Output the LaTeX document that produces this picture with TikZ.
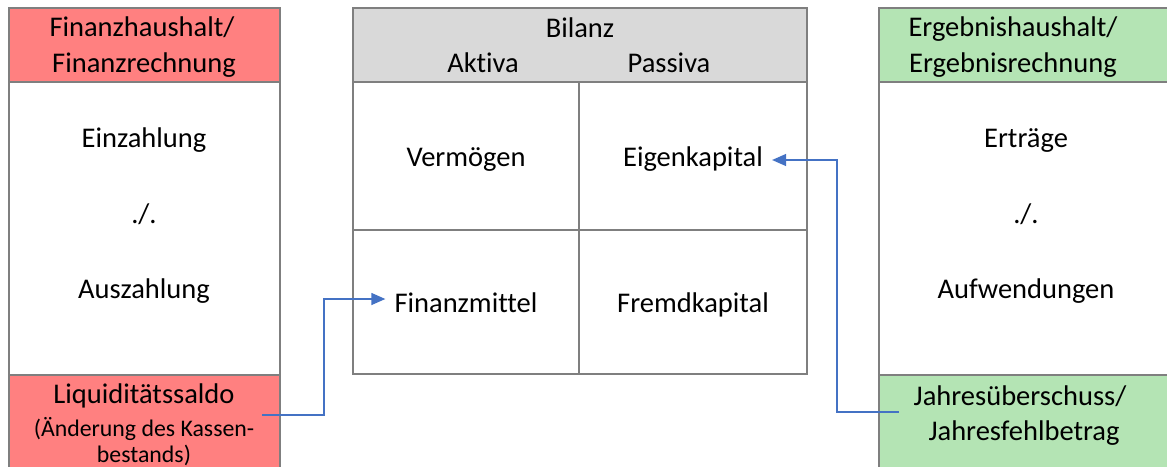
\documentclass[tikz,border=0pt]{standalone}
\usepackage{fontspec}
\setmainfont{Carlito}[Ligatures=NoCommon]
\usetikzlibrary{arrows.meta}
\definecolor{fhred}{RGB}{255,128,128}
\definecolor{ehgreen}{RGB}{180,228,180}
\definecolor{hgray}{RGB}{217,217,217}
\definecolor{bgray}{RGB}{127,127,127}
\definecolor{arrblue}{RGB}{68,114,196}
\begin{document}
\begin{tikzpicture}[x=1pt,y=-1pt,
  frame/.style={draw=bgray, line width=2pt},
  txt/.style={font=\fontsize{28.5}{36}\selectfont, anchor=base, inner sep=0pt, align=center},
  smalltxt/.style={font=\fontsize{23.8}{27}\selectfont, anchor=base, inner sep=0pt, align=center},
  conn/.style={draw=arrblue, line width=1.3pt, -{Triangle[length=14pt,width=12pt]}, shorten >=9pt}
]
\useasboundingbox (0,0) rectangle (1167,466);
% left box
\fill[fhred] (9,8) rectangle (280,82);
\fill[fhred] (9,375) rectangle (280,475);
\draw[frame] (9,475) -- (9,8) -- (280,8) -- (280,475);
\draw[frame] (9,82) -- (280,82);
\draw[frame] (9,375) -- (280,375);
% middle box
\fill[hgray] (353,8) rectangle (807,82);
\draw[frame] (353,8) rectangle (807,374);
\draw[frame] (353,82) -- (807,82);
\draw[frame] (579,82) -- (579,374);
\draw[frame] (353,230) -- (807,230);
% right box
\fill[ehgreen] (879,8) rectangle (1180,82);
\fill[ehgreen] (879,375) rectangle (1180,475);
\draw[frame] (1180,8) -- (879,8) -- (879,475);
\draw[frame] (879,82) -- (1180,82);
\draw[frame] (879,375) -- (1180,375);

% left texts
\node[txt] (fh1) at (142,36) {Finanzhaushalt/};
\node[txt] (fh2) at (144,72) {Finanzrechnung};
\node[txt] (ez) at (144,147) {Einzahlung};
\node[txt] (lm) at (144,223) {./.};
\node[txt] (az) at (144,298) {Auszahlung};
\node[txt] (ls) at (144,403) {Liquiditätssaldo};
\node[smalltxt] (ls2) at (144,436) {(Änderung des Kassen-};
\node[smalltxt] (ls3) at (144,462) {bestands)};

% middle texts
\node[txt] (bil) at (580,37) {Bilanz};
\node[txt] (akt) at (483,72) {Aktiva};
\node[txt] (pas) at (669,72) {Passiva};
\node[txt] (verm) at (466,166) {Vermögen};
\node[txt] (ek) at (693,166) {Eigenkapital};
\node[txt] (fm) at (466,312) {Finanzmittel};
\node[txt] (fk) at (693,312) {Fremdkapital};

% right texts
\node[txt] (eh1) at (1013,36) {Ergebnishaushalt/};
\node[txt] (eh2) at (1013,72) {Ergebnisrechnung};
\node[txt] (er) at (1026,147) {Erträge};
\node[txt] (rm) at (1026,223) {./.};
\node[txt] (auf) at (1026,298) {Aufwendungen};
\node[txt] (js1) at (1020,405) {Jahresüberschuss/};
\node[txt] (js2) at (1024,440) {Jahresfehlbetrag};

% connectors
\coordinate (lstart) at (262,415);
\coordinate (lbend) at (324,299);
\draw[conn] (lstart) -| (lbend) -- (lbend -| fm.west);
\coordinate (rstart) at (899,412);
\coordinate (rbend) at (837,160);
\draw[conn] (rstart) -| (rbend) -- (rbend -| ek.east);
\end{tikzpicture}
\end{document}
